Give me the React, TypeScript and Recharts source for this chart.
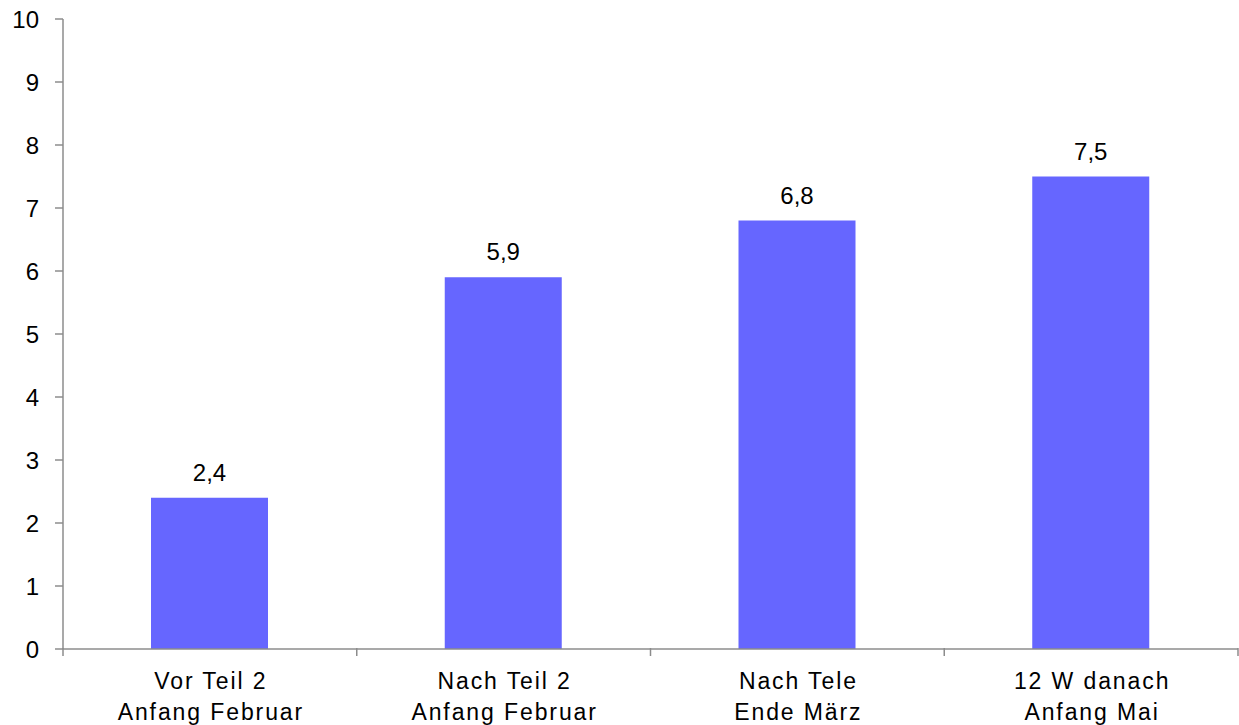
import { Bar, BarChart, LabelList, XAxis, YAxis } from "recharts";

const categories = [
  ["Vor Teil 2", "Anfang Februar"],
  ["Nach Teil 2", "Anfang Februar"],
  ["Nach Tele", "Ende März"],
  ["12 W danach", "Anfang Mai"],
];
const values = [2.4, 5.9, 6.8, 7.5];
const yTicks = [0, 1, 2, 3, 4, 5, 6, 7, 8, 9, 10];

const rows = categories.map((c, i) => ({ key: String(i), lines: c, value: values[i] }));

const AXIS = "#8c8c8c";
const FONT = "'Liberation Sans', Arial, sans-serif";
const BAND = (1239 - 63 - 1) / categories.length;

function CatTick(props: any) {
  const { x, y, payload, index } = props;
  const lines = categories[index] ?? categories[Number(payload.value)];
  const left = x - BAND / 2;
  const y0 = y - 9;
  const cx = x + 1;
  return (
    <g>
      <line x1={left} y1={y0} x2={left} y2={y0 + 8} stroke={AXIS} strokeWidth={1.5} />
      {index === categories.length - 1 && (
        <line x1={left + BAND} y1={y0} x2={left + BAND} y2={y0 + 8} stroke={AXIS} strokeWidth={1.5} />
      )}
      <text x={cx} y={y} textAnchor="middle" fontSize={23} letterSpacing={1.9} fontFamily={FONT} fill="#000">
        <tspan x={cx} dy={32}>{lines[0]}</tspan>
        <tspan x={cx} dy={31}>{lines[1]}</tspan>
      </text>
    </g>
  );
}

export default function App() {
  return (
    <div style={{ position: "absolute", left: 0, top: 0, width: 1239, height: 725, background: "#fff" }}>
      <BarChart
        width={1239}
        height={725}
        data={rows}
        margin={{ top: 19, right: 1, bottom: 0, left: 0 }}
        barCategoryGap="30%"
      >
        <XAxis
          dataKey="key"
          height={76}
          axisLine={{ stroke: AXIS, strokeWidth: 1.5 }}
          tickLine={false}
          tick={<CatTick />}
          interval={0}
        />
        <YAxis
          width={63}
          domain={[0, 10]}
          ticks={yTicks}
          interval={0}
          axisLine={{ stroke: AXIS, strokeWidth: 1.5 }}
          tickLine={{ stroke: AXIS, strokeWidth: 1.5 }}
          tickSize={8}
          tickMargin={16}
          tick={{ fontSize: 24, fill: "#000", fontFamily: FONT }}
        />
        <Bar dataKey="value" fill="#6666FF" barSize={117} isAnimationActive={false}>
          <LabelList
            dataKey="value"
            position="top"
            offset={17}
            formatter={(v: any) => String(v).replace(".", ",")}
            style={{ fontSize: 24, fill: "#000", fontFamily: FONT }}
          />
        </Bar>
      </BarChart>
    </div>
  );
}
